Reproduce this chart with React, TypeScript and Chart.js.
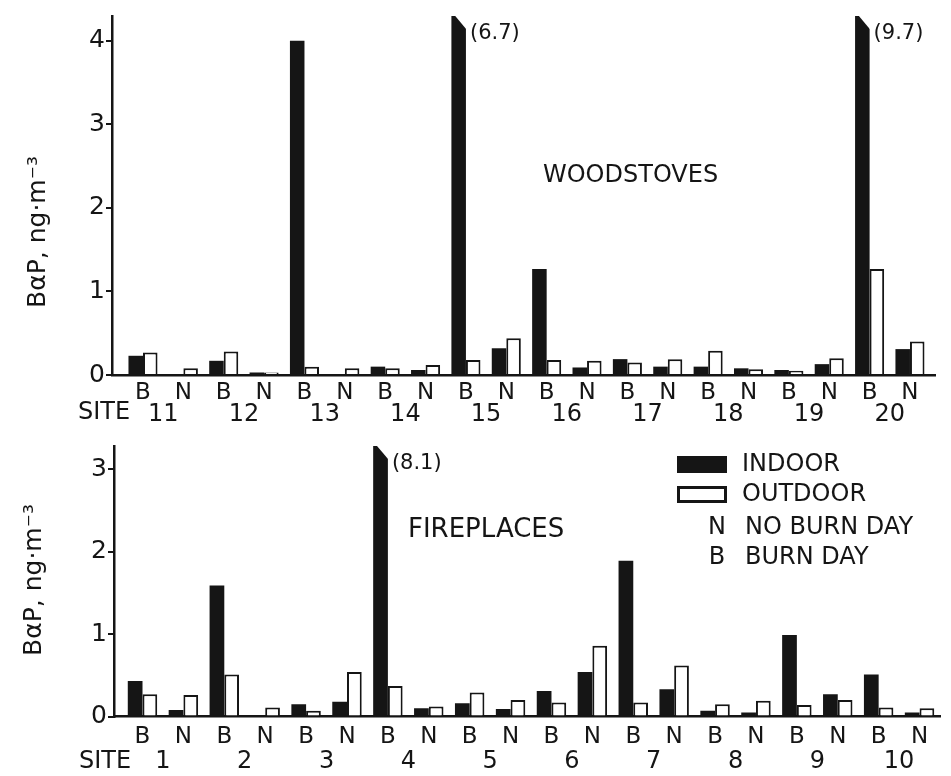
import React, { useEffect, useRef } from 'react';
import { Chart, registerables } from 'chart.js';

Chart.register(...registerables);

// ---------- data ----------
const dayLabels = ['B', 'N', 'B', 'N', 'B', 'N', 'B', 'N', 'B', 'N', 'B', 'N', 'B', 'N', 'B', 'N', 'B', 'N', 'B', 'N'];

const woodstoveSites = ['11', '12', '13', '14', '15', '16', '17', '18', '19', '20'];
const woodstoveIndoor = [0.23, 0, 0.17, 0.03, 4.0, 0, 0.1, 0.06, 6.7, 0.32, 1.27, 0.09, 0.19, 0.1, 0.1, 0.08, 0.06, 0.13, 9.7, 0.31];
const woodstoveOutdoor = [0.27, 0.08, 0.28, 0.03, 0.1, 0.08, 0.08, 0.12, 0.18, 0.44, 0.18, 0.17, 0.15, 0.19, 0.29, 0.07, 0.05, 0.2, 1.27, 0.4];

const fireplaceSites = ['1', '2', '3', '4', '5', '6', '7', '8', '9', '10'];
const fireplaceIndoor = [0.43, 0.08, 1.59, 0, 0.15, 0.18, 8.1, 0.1, 0.16, 0.09, 0.31, 0.54, 1.89, 0.33, 0.07, 0.05, 0.99, 0.27, 0.51, 0.05];
const fireplaceOutdoor = [0.27, 0.26, 0.51, 0.11, 0.07, 0.54, 0.37, 0.12, 0.29, 0.2, 0.17, 0.86, 0.17, 0.62, 0.15, 0.19, 0.14, 0.2, 0.11, 0.1];

const woodstoveYTicks = [0, 1, 2, 3, 4];
const fireplaceYTicks = [0, 1, 2, 3];

const yTitle = 'BαP, ng·m⁻³';
const legendItems = ['INDOOR', 'OUTDOOR'];
const legendCodes = [['N', 'NO BURN DAY'], ['B', 'BURN DAY']];

// ---------- style ----------
const FONT = "'DejaVu Sans', 'Liberation Sans', sans-serif";
const INK = '#151515';

type PanelSpec = {
  width: number;
  height: number;
  sites: string[];
  indoor: number[];
  outdoor: number[];
  yTicks: number[];
  xMin: number;
  xMax: number;
  yMax: number;
  padding: { top: number; right: number; bottom: number; left: number };
  yWidth: number;
  xHeight: number;
  xPad: number;
  x2Height: number;
  x2Pad: number;
  title: string;
  titlePos: [number, number];
  titleSize: number;
  yTitlePos: [number, number];
  sitePos: [number, number];
  valueDy: number;
  legend: boolean;
};

function buildConfig(p: PanelSpec): any {
  const indoorPts = p.indoor.map((v, i) => ({ x: i, y: v }));
  const outdoorPts = p.outdoor.map((v, i) => ({ x: i, y: v }));

  const decor = {
    id: 'decor',
    afterDatasetsDraw(chart: any) {
      const ctx = chart.ctx;
      const area = chart.chartArea;
      const yScale = chart.scales.y;
      const meta = chart.getDatasetMeta(0);
      ctx.save();
      p.indoor.forEach((v, i) => {
        if (v > yScale.max) {
          const el = meta.data[i];
          const left = el.x - el.width / 2;
          const right = el.x + el.width / 2;
          ctx.fillStyle = '#fff';
          ctx.beginPath();
          ctx.moveTo(left + 3, area.top - 1);
          ctx.lineTo(right + 1, area.top - 1);
          ctx.lineTo(right + 1, area.top + 14);
          ctx.closePath();
          ctx.fill();
          ctx.fillStyle = INK;
          ctx.font = `21px ${FONT}`;
          ctx.textAlign = 'left';
          ctx.textBaseline = 'middle';
          ctx.fillText(`(${v})`, right + 4, area.top + p.valueDy);
        }
      });
      ctx.restore();
    },
    afterDraw(chart: any) {
      const ctx = chart.ctx;
      ctx.save();
      ctx.fillStyle = INK;
      ctx.textBaseline = 'middle';
      // panel title
      ctx.font = `${p.titleSize}px ${FONT}`;
      ctx.textAlign = 'left';
      ctx.fillText(p.title, p.titlePos[0], p.titlePos[1]);
      // SITE label
      ctx.font = `24px ${FONT}`;
      ctx.fillText('SITE', p.sitePos[0], p.sitePos[1]);
      // y title
      ctx.save();
      ctx.translate(p.yTitlePos[0], p.yTitlePos[1]);
      ctx.rotate(-Math.PI / 2);
      ctx.textAlign = 'center';
      ctx.font = `25px ${FONT}`;
      ctx.fillText(yTitle, 0, 0);
      ctx.restore();
      // legend
      if (p.legend) {
        ctx.font = `24px ${FONT}`;
        ctx.textAlign = 'left';
        ctx.fillRect(677, 26, 50, 17);
        ctx.fillText(legendItems[0], 742, 35);
        ctx.lineWidth = 3;
        ctx.strokeStyle = INK;
        ctx.fillStyle = '#fff';
        ctx.fillRect(678.5, 57.5, 47, 14);
        ctx.strokeRect(678.5, 57.5, 47, 14);
        ctx.fillStyle = INK;
        ctx.fillText(legendItems[1], 742, 65);
        legendCodes.forEach((c, k) => {
          const y = 98 + k * 30;
          ctx.textAlign = 'center';
          ctx.fillText(c[0], 717, y);
          ctx.textAlign = 'left';
          ctx.fillText(c[1], 745, y);
        });
      }
      ctx.restore();
    },
  };

  return {
    type: 'bar',
    data: {
      datasets: [
        {
          label: 'Indoor',
          data: indoorPts,
          backgroundColor: INK,
          borderColor: INK,
          borderWidth: 0,
          categoryPercentage: 0.72,
          barPercentage: 1,
          clip: 0,
        },
        {
          label: 'Outdoor',
          data: outdoorPts,
          backgroundColor: '#ffffff',
          borderColor: INK,
          borderWidth: 2,
          categoryPercentage: 0.72,
          barPercentage: 1,
          clip: 0,
        },
      ],
    },
    options: {
      responsive: false,
      animation: false,
      events: [],
      layout: { padding: p.padding },
      plugins: { legend: { display: false }, tooltip: { enabled: false }, title: { display: false } },
      scales: {
        x: {
          type: 'linear',
          position: 'bottom',
          min: p.xMin,
          max: p.xMax,
          offset: false,
          grid: { display: false, drawTicks: false, tickLength: 0, offset: false },
          border: { display: true, color: INK, width: 2.5 },
          afterBuildTicks: (s: any) => {
            s.ticks = dayLabels.map((_, i) => ({ value: i }));
          },
          afterFit: (s: any) => {
            s.height = p.xHeight;
          },
          ticks: {
            autoSkip: false,
            maxRotation: 0,
            minRotation: 0,
            padding: p.xPad,
            color: INK,
            font: { family: FONT, size: 23, lineHeight: 0.8 },
            callback: (v: any) => dayLabels[Math.round(v)] ?? '',
          },
        },
        x2: {
          type: 'linear',
          position: 'bottom',
          min: p.xMin,
          max: p.xMax,
          offset: false,
          grid: { display: false, drawTicks: false, tickLength: 0 },
          border: { display: false },
          afterBuildTicks: (s: any) => {
            s.ticks = p.sites.map((_, j) => ({ value: 2 * j + 0.5 }));
          },
          afterFit: (s: any) => {
            s.height = p.x2Height;
          },
          ticks: {
            autoSkip: false,
            maxRotation: 0,
            minRotation: 0,
            padding: p.x2Pad,
            color: INK,
            font: { family: FONT, size: 24, lineHeight: 0.8 },
            callback: (v: any) => p.sites[Math.round((v - 0.5) / 2)] ?? '',
          },
        },
        y: {
          type: 'linear',
          min: 0,
          max: p.yMax,
          afterBuildTicks: (s: any) => {
            s.ticks = p.yTicks.map((v) => ({ value: v }));
          },
          afterFit: (s: any) => {
            s.width = p.yWidth;
          },
          grid: {
            display: true,
            drawOnChartArea: false,
            drawTicks: true,
            tickLength: 6,
            color: INK,
            lineWidth: 2,
          },
          border: { display: true, color: INK, width: 2.5 },
          ticks: {
            padding: 1,
            color: INK,
            font: { family: FONT, size: 25 },
            callback: (v: any) => String(v),
          },
        },
      },
    },
    plugins: [decor],
  };
}

const topSpec: PanelSpec = {
  width: 951,
  height: 430,
  sites: woodstoveSites,
  indoor: woodstoveIndoor,
  outdoor: woodstoveOutdoor,
  yTicks: woodstoveYTicks,
  xMin: -0.768,
  xMax: 19.62,
  yMax: 4.297,
  padding: { top: 13, right: 16, bottom: 0, left: 0 },
  yWidth: 112,
  xHeight: 28,
  xPad: 8.8,
  x2Height: 27,
  x2Pad: 2.4,
  title: 'WOODSTOVES',
  titlePos: [543, 176],
  titleSize: 24,
  yTitlePos: [38, 232],
  sitePos: [78, 413],
  valueDy: 18,
  legend: false,
};

const bottomSpec: PanelSpec = {
  width: 951,
  height: 346,
  sites: fireplaceSites,
  indoor: fireplaceIndoor,
  outdoor: fireplaceOutdoor,
  yTicks: fireplaceYTicks,
  xMin: -0.697,
  xMax: 19.5,
  yMax: 3.283,
  padding: { top: 8, right: 11, bottom: 0.5, left: 0 },
  yWidth: 114,
  xHeight: 30,
  xPad: 11,
  x2Height: 29,
  x2Pad: 6,
  title: 'FIREPLACES',
  titlePos: [408, 100],
  titleSize: 26,
  yTitlePos: [34, 150],
  sitePos: [79, 332],
  valueDy: 18,
  legend: true,
};

function Panel({ spec, top }: { spec: PanelSpec; top: number }) {
  const ref = useRef<HTMLCanvasElement | null>(null);
  useEffect(() => {
    if (!ref.current) return;
    const chart = new Chart(ref.current, buildConfig(spec));
    return () => chart.destroy();
  }, [spec]);
  return (
    <canvas
      ref={ref}
      width={spec.width}
      height={spec.height}
      style={{ position: 'absolute', left: 0, top, width: spec.width, height: spec.height, display: 'block' }}
    />
  );
}

export default function App() {
  return (
    <div style={{ position: 'fixed', left: 0, top: 0, width: 951, height: 776, background: '#ffffff', overflow: 'hidden' }}>
      <Panel spec={topSpec} top={0} />
      <Panel spec={bottomSpec} top={430} />
    </div>
  );
}
